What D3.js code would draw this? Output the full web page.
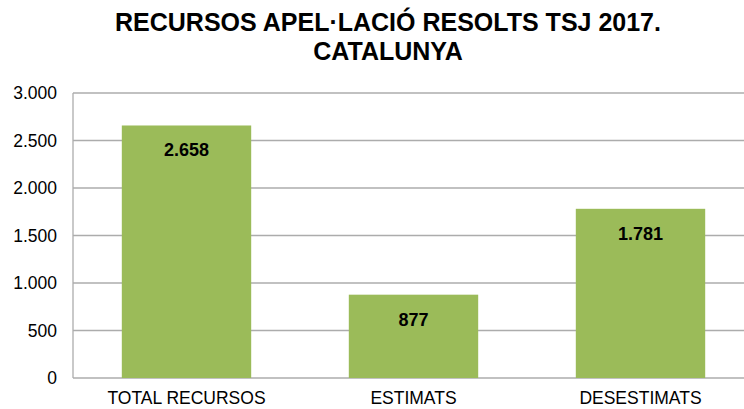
<!DOCTYPE html>
<html>
<head>
<meta charset="utf-8">
<script src="https://cdn.jsdelivr.net/npm/d3@7"></script>
<style>
  body { margin: 0; background: #fff; }
  text { font-family: "Liberation Sans", Arial, sans-serif; }
</style>
</head>
<body>
<div id="chart"></div>
<script>
const categories = ["TOTAL RECURSOS", "ESTIMATS", "DESESTIMATS"];
const values = [2658, 877, 1781];
const valueLabels = ["2.658", "877", "1.781"];
const yTicks = [0, 500, 1000, 1500, 2000, 2500, 3000];
const yTickLabels = ["0", "500", "1.000", "1.500", "2.000", "2.500", "3.000"];
const titleLines = ["RECURSOS APEL·LACIÓ RESOLTS TSJ 2017.", "CATALUNYA"];

const W = 744, H = 409;
const margin = { top: 93, right: -10, bottom: 31, left: 73 };
const width = W - margin.left - margin.right;
const height = H - margin.top - margin.bottom;

const svg = d3.select("#chart").append("svg")
    .attr("width", W)
    .attr("height", H);

svg.selectAll("text.title")
    .data(titleLines)
    .enter().append("text")
    .attr("class", "title")
    .attr("x", 388)
    .attr("y", (d, i) => 31 + i * 29)
    .attr("text-anchor", "middle")
    .style("font-size", "25px")
    .style("font-weight", "bold")
    .style("fill", "#000")
    .text(d => d);

const g = svg.append("g")
    .attr("transform", "translate(" + margin.left + "," + margin.top + ")");

const x = d3.scaleBand()
    .domain(categories)
    .range([0, width])
    .paddingInner(0.43)
    .paddingOuter(0.215);

const y = d3.scaleLinear()
    .domain([0, 3000])
    .range([height, 0]);

// gridlines
g.selectAll("line.grid")
    .data(yTicks)
    .enter().append("line")
    .attr("class", "grid")
    .attr("x1", 0)
    .attr("x2", W)
    .attr("y1", d => y(d))
    .attr("y2", d => y(d))
    .attr("stroke", "#acacac")
    .attr("stroke-width", 1.3);

g.append("line")
    .attr("x1", 0).attr("x2", 0)
    .attr("y1", 0).attr("y2", height)
    .attr("stroke", "#acacac")
    .attr("stroke-width", 1.3);

// y tick labels
g.selectAll("text.ytick")
    .data(yTicks)
    .enter().append("text")
    .attr("class", "ytick")
    .attr("x", -16)
    .attr("y", d => y(d))
    .attr("dy", "0.35em")
    .attr("text-anchor", "end")
    .style("font-size", "17.5px")
    .style("fill", "#000")
    .text((d, i) => yTickLabels[i]);

// bars
g.selectAll("rect.bar")
    .data(values)
    .enter().append("rect")
    .attr("class", "bar")
    .attr("x", (d, i) => x(categories[i]))
    .attr("y", d => y(d))
    .attr("width", x.bandwidth())
    .attr("height", d => height - y(d))
    .attr("fill", "#9bbb59");

// value labels
g.selectAll("text.val")
    .data(values)
    .enter().append("text")
    .attr("class", "val")
    .attr("x", (d, i) => x(categories[i]) + x.bandwidth() / 2)
    .attr("y", d => y(d) + 31)
    .attr("text-anchor", "middle")
    .style("font-size", "18px")
    .style("font-weight", "bold")
    .style("fill", "#000")
    .text((d, i) => valueLabels[i]);

// category labels
g.selectAll("text.cat")
    .data(categories)
    .enter().append("text")
    .attr("class", "cat")
    .attr("x", d => x(d) + x.bandwidth() / 2)
    .attr("y", height + 26)
    .attr("text-anchor", "middle")
    .style("font-size", "17.5px")
    .style("fill", "#000")
    .text(d => d);
</script>
</body>
</html>
